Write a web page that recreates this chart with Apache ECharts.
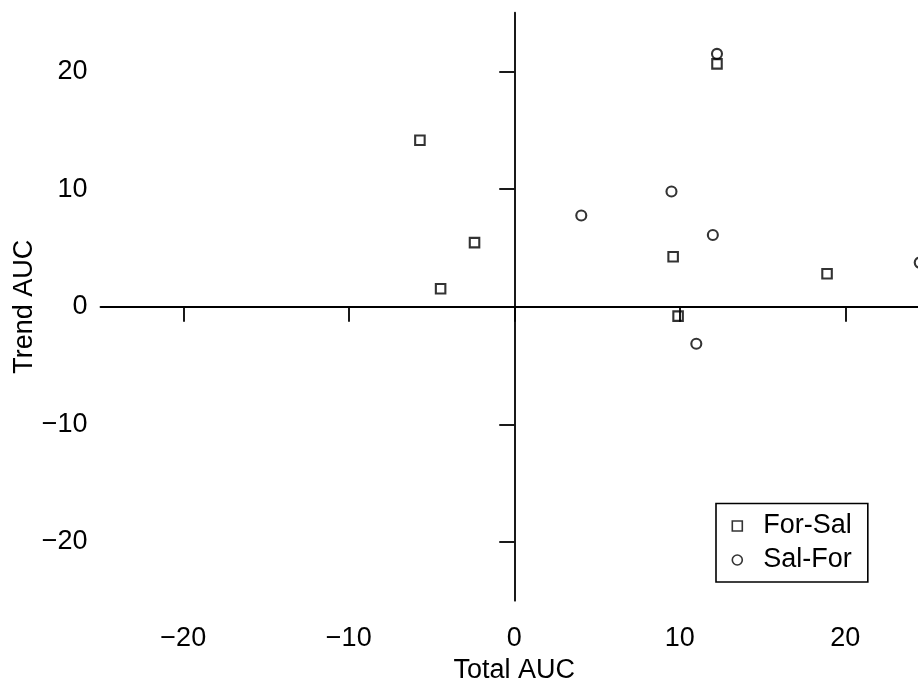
<!DOCTYPE html>
<html><head><meta charset="utf-8">
<script src="https://cdn.jsdelivr.net/npm/echarts@6/dist/echarts.min.js"></script>
<style>html,body{margin:0;padding:0;background:#fff}#c{width:918px;height:684px}</style>
</head><body><div id="c"></div>
<script>
const seriesNames = ['For-Sal', 'Sal-For'];
const forSalX = [-5.7, -2.4, -4.45, 9.6, 9.9, 12.25, 18.9];
const forSalY = [14.15, 5.45, 1.53, 4.25, -0.8, 20.65, 2.8];
const salForX = [4.05, 9.5, 12.0, 11.0, 12.25, 24.5];
const salForY = [7.75, 9.8, 6.1, -3.15, 21.5, 3.75];
const xTicks = [-20, -10, 0, 10, 20];
const yTicks = [-20, -10, 0, 10, 20];
const xTitle = 'Total AUC';
const yTitle = 'Trend AUC';

const FONT = "'Liberation Sans', Arial, Helvetica, sans-serif";
const FS = 27;
const fmt = v => (v < 0 ? '\u2212' + Math.abs(v) : String(v));
const lineStyle = {color: '#000', width: 1.8};
const txt = {color: '#000', fontSize: FS, fontFamily: FONT};

const chart = echarts.init(document.getElementById('c'), null, {renderer: 'canvas'});
chart.setOption({
  animation: false,
  backgroundColor: '#fff',
  grid: {left: 100.5, top: 12.7, right: -10, bottom: 83.3, outerBoundsMode: 'none', containLabel: false},
  xAxis: [
    {
      type: 'value', min: -25, max: 25, position: 'bottom',
      axisLine: {show: false, onZero: false},
      axisTick: {show: false},
      axisLabel: {show: true, customValues: xTicks, margin: 24, formatter: fmt, ...txt},
      splitLine: {show: false},
      name: xTitle, nameLocation: 'middle', nameGap: 56, nameMoveOverlap: false,
      nameTextStyle: txt
    },
    {
      type: 'value', min: -25, max: 25, position: 'top',
      axisLine: {show: true, onZero: true, onZeroAxisIndex: 0, lineStyle: lineStyle},
      axisTick: {show: true, inside: true, customValues: xTicks, length: 15, lineStyle: lineStyle},
      axisLabel: {show: false},
      splitLine: {show: false}
    }
  ],
  yAxis: [
    {
      type: 'value', min: -25, max: 25, position: 'left',
      axisLine: {show: false, onZero: false},
      axisTick: {show: false},
      axisLabel: {show: true, customValues: yTicks, margin: 13, formatter: fmt, ...txt},
      splitLine: {show: false},
      name: yTitle, nameLocation: 'middle', nameGap: 62, nameMoveOverlap: false,
      nameTextStyle: txt
    },
    {
      type: 'value', min: -25, max: 25, position: 'right',
      axisLine: {show: true, onZero: true, onZeroAxisIndex: 0, lineStyle: lineStyle},
      axisTick: {show: true, inside: true, customValues: yTicks, length: 15, lineStyle: lineStyle},
      axisLabel: {show: false},
      splitLine: {show: false}
    }
  ],
  legend: {
    orient: 'vertical', left: 716, top: 503.5,
    data: [{name: seriesNames[0], icon: 'rect'}, {name: seriesNames[1], icon: 'circle'}],
    itemWidth: 10, itemHeight: 10, itemGap: 4,
    padding: [7.5, 16, 7, 15.5],
    borderColor: '#000', borderWidth: 1.6, borderRadius: 0, backgroundColor: '#fff',
    itemStyle: {color: 'rgba(0,0,0,0)', borderColor: '#000', borderWidth: 1.6},
    textStyle: {...txt, lineHeight: 30, padding: [0, 0, 0, 16]},
    selectedMode: false
  },
  series: [
    {
      name: seriesNames[0], type: 'scatter', symbol: 'rect', symbolSize: 9.5,
      xAxisIndex: 0, yAxisIndex: 0,
      data: forSalX.map((x, i) => [x, forSalY[i]]),
      itemStyle: {color: 'rgba(0,0,0,0)', borderColor: '#000', borderWidth: 2.1},
      emphasis: {disabled: true}
    },
    {
      name: seriesNames[1], type: 'scatter', symbol: 'circle', symbolSize: 10,
      xAxisIndex: 0, yAxisIndex: 0,
      data: salForX.map((x, i) => [x, salForY[i]]),
      itemStyle: {color: 'rgba(0,0,0,0)', borderColor: '#000', borderWidth: 2.1},
      emphasis: {disabled: true}
    }
  ]
});
</script></body></html>
